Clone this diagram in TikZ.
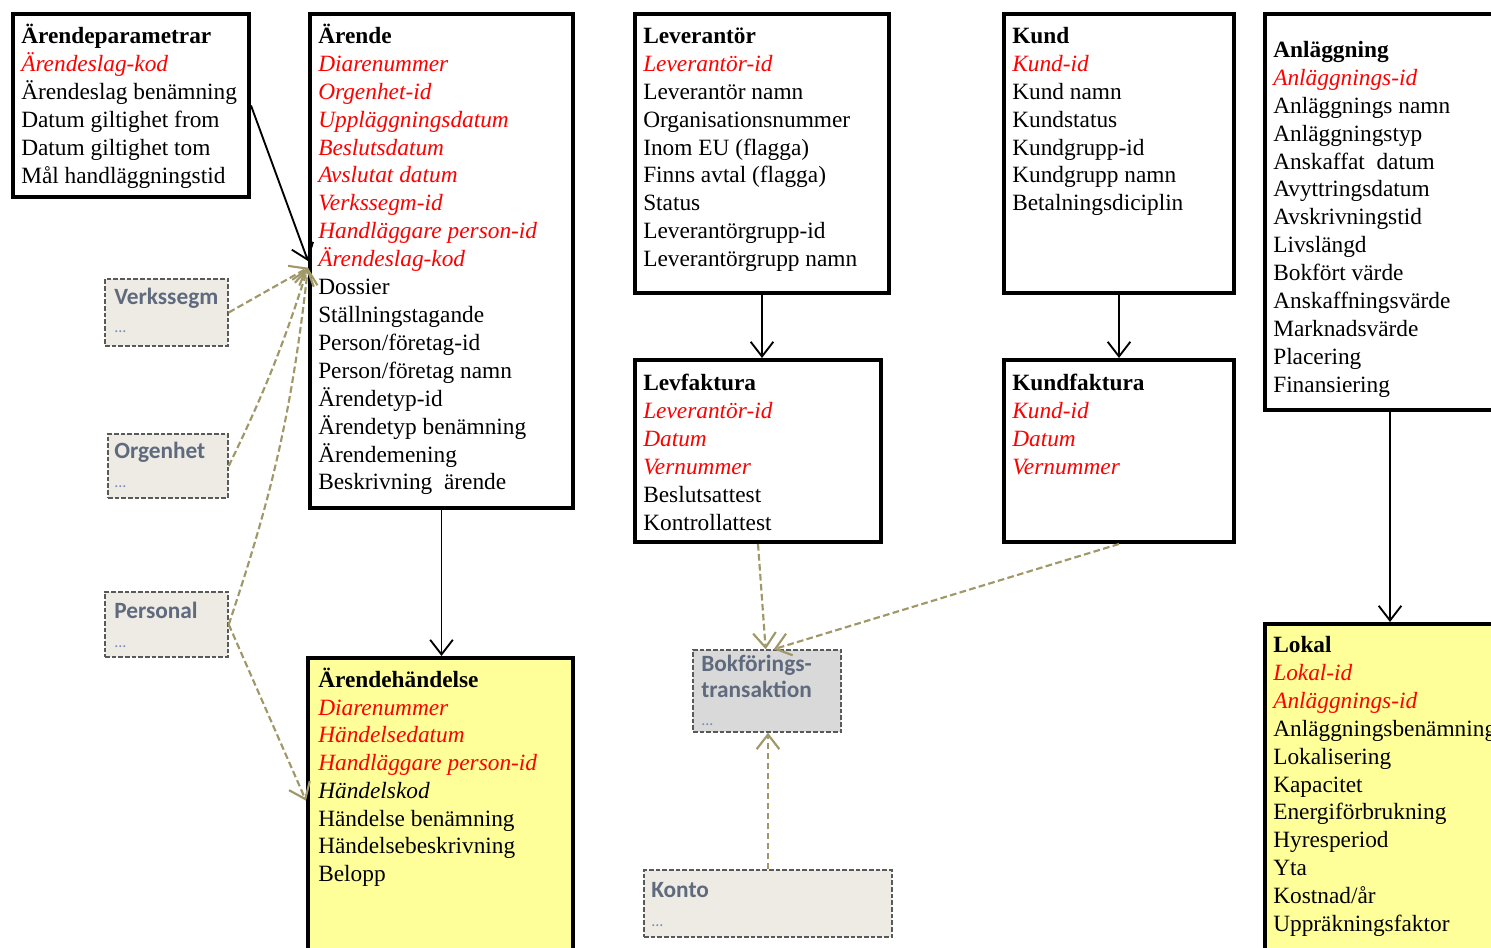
\documentclass[tikz,border=0pt]{standalone}
\usepackage{fontspec}
\setmainfont{Liberation Serif}
\newfontfamily\calfont{Carlito}
\usetikzlibrary{arrows.meta,fit}

\definecolor{keyred}{RGB}{255,0,0}
\definecolor{linkolive}{RGB}{160,152,104}
\definecolor{notefill}{RGB}{255,255,153}
\definecolor{ghostfill}{RGB}{237,235,227}
\definecolor{ghosttext}{RGB}{96,106,126}
\definecolor{ghostdots}{RGB}{110,140,190}
\definecolor{transfill}{RGB}{217,217,217}

\newcommand{\pk}[1]{\textcolor{keyred}{\itshape #1}}
\newcommand{\etitle}[1]{\textbf{#1}}

\begin{document}
\begin{tikzpicture}[x=0.75pt,y=-0.75pt,
        entity/.style={draw,line width=3pt,fill=white,inner sep=0},
        field/.style={anchor=base west,inner sep=0,font=\fontsize{17.5}{21}\selectfont},
        ghost/.style={draw=black!65,dash pattern=on 3.5pt off 1.5pt,line width=1.1pt,fill=ghostfill,inner sep=0},
        gfield/.style={anchor=base west,inner sep=0,text=ghosttext,font=\calfont\bfseries\fontsize{17.5}{21}\selectfont},
        gdots/.style={anchor=base west,inner sep=0,text=ghostdots,font=\calfont\fontsize{12}{14}\selectfont},
        rel/.style={-{Straight Barb[length=11pt,width=17pt]},line width=1.4pt},
        ref/.style={-{Straight Barb[length=11pt,width=17pt]},line width=1.6pt,draw=linkolive,dash pattern=on 5pt off 2.5pt}]
        \useasboundingbox (0,0) rectangle (1491,948);
        \fill[white] (0,0) rectangle (1491,948);
        \clip (0,0) rectangle (1491,948);

        % Entities
        \node[entity,fit={(13,14) (249,197)}] (param) {};
        \node[entity,fit={(310,14) (573,508)}] (arende) {};
        \node[entity,fit={(635,14) (889,293)}] (lev) {};
        \node[entity,fit={(1004,14) (1234,293)}] (kund) {};
        \node[entity,fit={(1265,14) (1515,410)}] (anl) {};
        \node[entity,fit={(635,360) (881,542)}] (levf) {};
        \node[entity,fit={(1004,360) (1234,542)}] (kundf) {};
        \node[entity,fill=notefill,fit={(308,658) (573,970)}] (arendeh) {};
        \node[entity,fill=notefill,fit={(1265,624) (1515,970)}] (lokal) {};

        \node[ghost,fit={(105,279) (228,346)}] (verk) {};
        \node[ghost,fit={(108,434) (228,498)}] (org) {};
        \node[ghost,fit={(105,592) (228,657)}] (pers) {};
        \node[ghost,fill=transfill,fit={(693,650) (841,732)}] (bok) {};
        \node[ghost,fit={(644,870) (892,937)}] (konto) {};

        % Fields
        \foreach \t [count=\i] in {\etitle{Ärendeparametrar}, \pk{Ärendeslag-kod}, Ärendeslag benämning,
            Datum giltighet from, Datum giltighet tom, Mål handläggningstid} {
            \node[field] (param-\i) at (21,{43.5+28*(\i-1)}) {\t};
        }

        \foreach \t [count=\i] in {\etitle{Ärende}, \pk{Diarenummer}, \pk{Orgenhet-id}, \pk{Uppläggningsdatum},
            \pk{Beslutsdatum}, \pk{Avslutat datum}, \pk{Verkssegm-id}, \pk{Handläggare person-id},
            \pk{Ärendeslag-kod}, Dossier, Ställningstagande, Person/företag-id, Person/företag namn,
            Ärendetyp-id, Ärendetyp benämning, Ärendemening, Beskrivning\ \ ärende} {
            \node[field] (arende-\i) at (318,{43.5+27.9*(\i-1)}) {\t};
        }

        \foreach \t [count=\i] in {\etitle{Leverantör}, \pk{Leverantör-id}, Leverantör namn,
            Organisationsnummer, Inom EU (flagga), Finns avtal (flagga), Status,
            Leverantörgrupp-id, Leverantörgrupp namn} {
            \node[field] (lev-\i) at (643,{43.5+27.9*(\i-1)}) {\t};
        }

        \foreach \t [count=\i] in {\etitle{Kund}, \pk{Kund-id}, Kund namn, Kundstatus,
            Kundgrupp-id, Kundgrupp namn, Betalningsdiciplin} {
            \node[field] (kund-\i) at (1012,{43.5+27.9*(\i-1)}) {\t};
        }

        \foreach \t [count=\i] in {\etitle{Anläggning}, \pk{Anläggnings-id}, Anläggnings namn,
            Anläggningstyp, Anskaffat\ \ datum, Avyttringsdatum, Avskrivningstid, Livslängd,
            Bokfört värde, Anskaffningsvärde, Marknadsvärde, Placering, Finansiering} {
            \node[field] (anl-\i) at (1273,{57.5+27.9*(\i-1)}) {\t};
        }

        \foreach \t [count=\i] in {\etitle{Levfaktura}, \pk{Leverantör-id}, \pk{Datum},
            \pk{Vernummer}, Beslutsattest, Kontrollattest} {
            \node[field] (levf-\i) at (643,{390.5+28*(\i-1)}) {\t};
        }

        \foreach \t [count=\i] in {\etitle{Kundfaktura}, \pk{Kund-id}, \pk{Datum}, \pk{Vernummer}} {
            \node[field] (kundf-\i) at (1012,{390.5+28*(\i-1)}) {\t};
        }

        \foreach \t [count=\i] in {\etitle{Ärendehändelse}, \pk{Diarenummer}, \pk{Händelsedatum},
            \pk{Handläggare person-id}, \textit{Händelskod}, Händelse benämning,
            Händelsebeskrivning, Belopp} {
            \node[field] (arendeh-\i) at (318,{687.5+27.7*(\i-1)}) {\t};
        }

        \foreach \t [count=\i] in {\etitle{Lokal}, \pk{Lokal-id}, \pk{Anläggnings-id},
            Anläggningsbenämning, Lokalisering, Kapacitet, Energiförbrukning, Hyresperiod,
            Yta, Kostnad/år, Uppräkningsfaktor} {
            \node[field] (lokal-\i) at (1273,{652.5+27.9*(\i-1)}) {\t};
        }

        % Outside entities
        \node[gfield] (verk-t) at (114,305) {Verkssegm};
        \node[gdots] (verk-d) at (114,333) {...};
        \node[gfield] (org-t) at (114,458) {Orgenhet};
        \node[gdots] (org-d) at (114,487) {...};
        \node[gfield] (pers-t) at (114,618) {Personal};
        \node[gdots] (pers-d) at (114,647) {...};
        \node[gfield] (bok-t1) at (701,671) {Bokförings-};
        \node[gfield] (bok-t2) at (701,697) {transaktion};
        \node[gdots] (bok-d) at (701,725) {...};
        \node[gfield] (konto-t) at (651,897) {Konto};
        \node[gdots] (konto-d) at (651,926) {...};

        % Relations
        \draw[rel] (param.east) -- (arende.west);
        \draw[rel] (arende.south) -- (arende.south |- arendeh.north);
        \draw[rel] (lev.south) -- (lev.south |- levf.north);
        \draw[rel] (kund.south) -- (kundf.north);
        \draw[rel] (anl.south) -- (lokal.north);

        % References
        \draw[ref] (verk.east) -- ([yshift=-5pt]arende.west);
        \draw[ref] (org.east) to[bend right=4] ([yshift=-5pt]arende.west);
        \draw[ref] (pers.east) to[bend right=6] ([yshift=-5pt]arende.west);
        \draw[ref] (pers.east) -- ([yshift=10pt]arendeh.west);
        \draw[ref] (levf.south) -- ([xshift=-1pt]bok.north);
        \draw[ref] (kundf.south) -- ([xshift=5pt]bok.north);
        \draw[ref] (konto.north) -- (konto.north |- bok.south);
    \end{tikzpicture}
\end{document}
